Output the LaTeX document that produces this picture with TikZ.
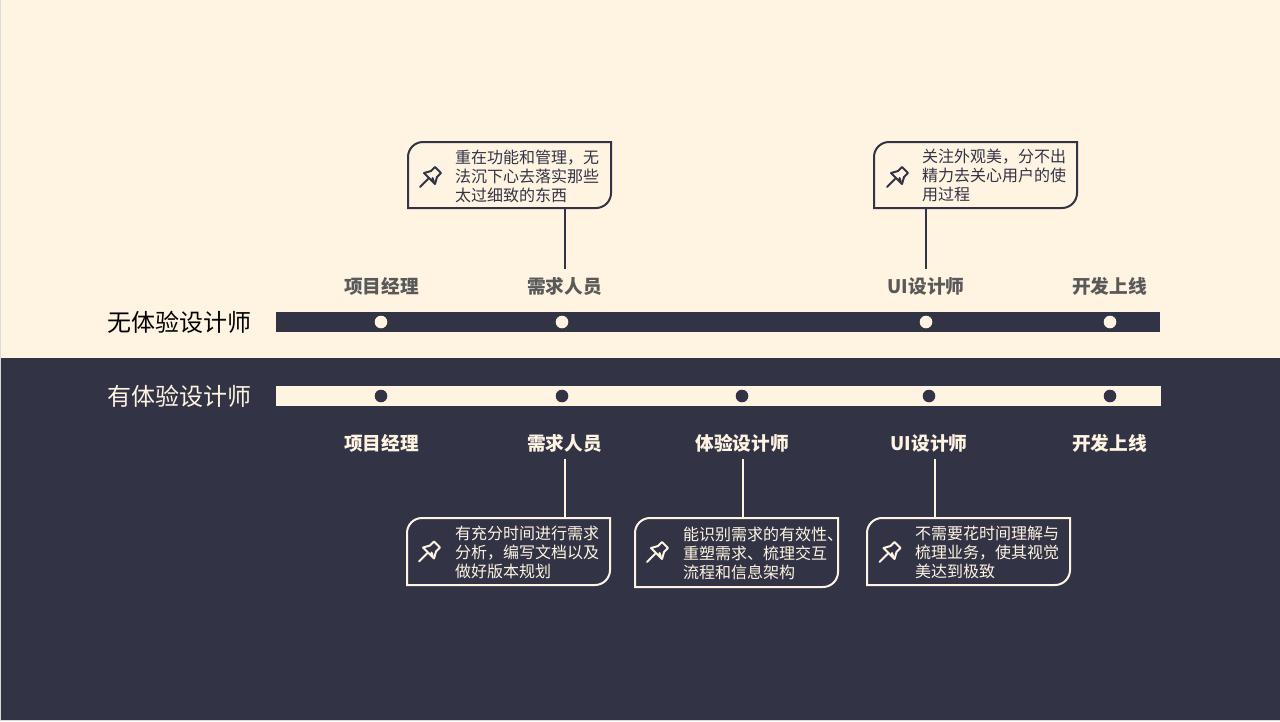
\documentclass[tikz,border=0pt]{standalone}
\usepackage{fontspec}
\setmainfont{Noto Sans CJK SC}
\usepackage{xcolor}
\definecolor{creambg}{HTML}{FFF4E2}
\definecolor{darkbg}{HTML}{323446}
\definecolor{labelgray}{HTML}{595959}
\tikzset{
  rowtitle/.style={font=\fontsize{24}{28}\selectfont,inner sep=0pt},
  rowlabel/.style={font=\fontsize{18.67}{22}\selectfont\bfseries,inner sep=0pt},
  notebox/.style={minimum width=203,minimum height=#1,inner sep=0pt,outer sep=0pt},
  notetext/.style={font=\fontsize{16}{19}\selectfont,align=left,anchor=west,inner sep=0pt},
  stem/.style={line width=2pt},
  pinline/.style={line width=2pt,line join=round,line cap=round}
}
% outline of a note: only the top left and bottom right corners are round
\newcommand{\noteedge}[2]{%
  \draw[#2,line width=2pt,rounded corners=15pt] (#1.south west) -- (#1.north west) -- (#1.north) [sharp corners] -- (#1.north east) [rounded corners=15pt] -- (#1.south east) -- (#1.south) [sharp corners] -- (#1.south west) -- cycle;}
\newcommand{\pinicon}[2]{%
  \draw[#2,pinline,shift={(#1)}] (4,-10) -- (10,-4) -- (6,0) -- (4,7) -- (-7,-4) -- (0,-6) -- cycle
    (-3,2) -- (-11,10) (1.5,1) -- (2.5,4);}

\begin{document}
\begin{tikzpicture}[x=1pt,y=-1pt]
  \useasboundingbox (0,0) rectangle (1280,721);
  % two halves of the page
  \fill[creambg] (0,0) rectangle (1280,358);
  \fill[darkbg] (0,358) rectangle (1280,721);
  \fill[black!15] (0,0) rectangle (1,721);
  \fill[black!15] (0,720) rectangle (1280,721);

  % upper row: no experience designer
  \node[rowtitle,black] (title1) at (179,322) {无体验设计师};
  \fill[darkbg] (276,312) rectangle (1160,332);
  \fill[creambg] (381,322) circle (6.3);
  \fill[creambg] (562,322) circle (6.3);
  \fill[creambg] (926,322) circle (6.3);
  \fill[creambg] (1110,322) circle (6.3);
  \node[rowlabel,labelgray] (top1) at (381.5,286) {项目经理};
  \node[rowlabel,labelgray] (top2) at (564.5,286) {需求人员};
  \node[rowlabel,labelgray] (top3) at (926,286) {UI设计师};
  \node[rowlabel,labelgray] (top4) at (1109.5,286) {开发上线};

  % upper notes
  \node[notebox=66] (noteA) at (509.5,175) {};
  \noteedge{noteA}{darkbg}
  \pinicon{431,177}{darkbg}
  \node[notetext,darkbg] (textA) at (455,176) {重在功能和管理，无\\法沉下心去落实那些\\太过细致的东西};
  \coordinate (stemA) at (565,269);
  \draw[stem,darkbg] (stemA |- noteA.south) -- (stemA);

  \node[notebox=66] (noteB) at (975.5,175) {};
  \noteedge{noteB}{darkbg}
  \pinicon{898,177}{darkbg}
  \node[notetext,darkbg] (textB) at (922,175.5) {关注外观美，分不出\\精力去关心用户的使\\用过程};
  \coordinate (stemB) at (926,269);
  \draw[stem,darkbg] (stemB |- noteB.south) -- (stemB);

  % lower row: with experience designer
  \node[rowtitle,creambg] (title2) at (179,396) {有体验设计师};
  \fill[creambg] (276,386) rectangle (1161,406);
  \fill[darkbg] (381,396) circle (6.3);
  \fill[darkbg] (562,396) circle (6.3);
  \fill[darkbg] (742,396) circle (6.3);
  \fill[darkbg] (929,396) circle (6.3);
  \fill[darkbg] (1110,396) circle (6.3);
  \node[rowlabel,creambg] (low1) at (381.5,443) {项目经理};
  \node[rowlabel,creambg] (low2) at (564.5,443) {需求人员};
  \node[rowlabel,creambg] (low3) at (742,443) {体验设计师};
  \node[rowlabel,creambg] (low4) at (929,443) {UI设计师};
  \node[rowlabel,creambg] (low5) at (1109.5,443) {开发上线};

  % lower notes
  \node[notebox=67] (noteC) at (508.5,551.5) {};
  \noteedge{noteC}{creambg}
  \pinicon{430,551.5}{creambg}
  \node[notetext,creambg] (textC) at (455,552) {有充分时间进行需求\\分析，编写文档以及\\做好版本规划};
  \coordinate (stemC) at (565,459);
  \draw[stem,creambg] (stemC |- noteC.north) -- (stemC);

  \node[notebox=69] (noteD) at (736.5,552.5) {};
  \noteedge{noteD}{creambg}
  \pinicon{658,552}{creambg}
  \node[notetext,creambg] (textD) at (683,553.5) {能识别需求的有效性、\\重塑需求、梳理交互\\流程和信息架构};
  \coordinate (stemD) at (743,459);
  \draw[stem,creambg] (stemD |- noteD.north) -- (stemD);

  \node[notebox=67] (noteE) at (968.5,551.5) {};
  \noteedge{noteE}{creambg}
  \pinicon{890.5,552}{creambg}
  \node[notetext,creambg] (textE) at (915,552) {不需要花时间理解与\\梳理业务，使其视觉\\美达到极致};
  \coordinate (stemE) at (935,459);
  \draw[stem,creambg] (stemE |- noteE.north) -- (stemE);
\end{tikzpicture}
\end{document}
